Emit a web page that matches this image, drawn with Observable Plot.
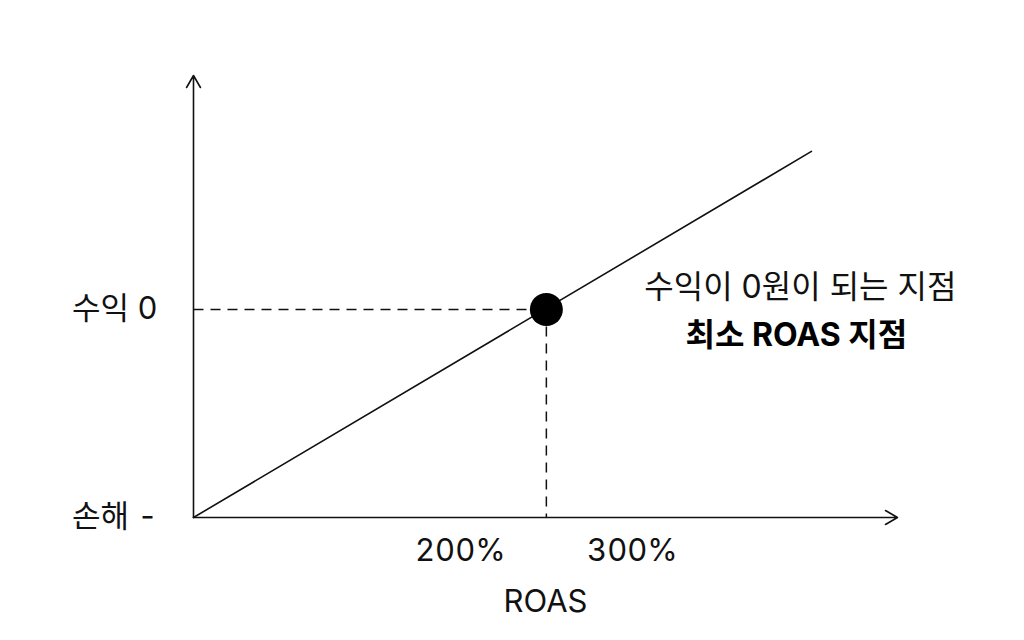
<!DOCTYPE html>
<html>
<head>
<meta charset="utf-8">
<script src="https://cdn.jsdelivr.net/npm/d3@7"></script>
<script src="https://cdn.jsdelivr.net/npm/@observablehq/plot@0.6"></script>
<style>
  html, body { margin: 0; padding: 0; background: #fff; }
  #chart svg { display: block; }
</style>
</head>
<body>
<div id="chart"></div>
<script>
// ---- data ----
const xDomain = [45, 454];            // ROAS (%) range of the x axis
const yDomain = [-100, 112.5];        // profit (arbitrary units)
const xTicks = [200, 300];
const xTickLabels = ["200%", "300%"];
const yTicks = [0, -100];
const yTickLabels = ["수익 0", "손해 -"];
const lineRoas = [45, 404];
const lineProfit = [-100, 76];
const breakEvenRoas = 250;
const breakEvenProfit = 0;
const annotationLines = ["수익이 0원이 되는 지점", "최소 ROAS 지점"];
const xLabel = "ROAS";

const line = lineRoas.map((r, i) => ({roas: r, profit: lineProfit[i]}));
const point = [{roas: breakEvenRoas, profit: breakEvenProfit}];
const font = "Inter, 'Noto Sans CJK KR', sans-serif";

const chart = Plot.plot({
  width: 1024,
  height: 640,
  marginLeft: 193,
  marginRight: 127,
  marginTop: 75,
  marginBottom: 123,
  style: {fontFamily: font, color: "#111", background: "#fff"},
  x: {domain: xDomain},
  y: {domain: yDomain},
  marks: [
    // axes with arrowheads
    Plot.arrow([{x1: xDomain[0], y1: yDomain[0], x2: xDomain[1], y2: yDomain[0]}],
      {x1: "x1", y1: "y1", x2: "x2", y2: "y2", stroke: "#111", strokeWidth: 1.6, headLength: 13, bend: 0, inset: 0}),
    Plot.arrow([{x1: xDomain[0], y1: yDomain[0], x2: xDomain[0], y2: yDomain[1]}],
      {x1: "x1", y1: "y1", x2: "x2", y2: "y2", stroke: "#111", strokeWidth: 1.6, headLength: 13, bend: 0, inset: 0}),
    // dashed guides
    Plot.link(point, {x1: xDomain[0], x2: "roas", y1: "profit", y2: "profit",
      stroke: "#111", strokeWidth: 1.5, strokeDasharray: "10,7"}),
    Plot.link(point, {x1: "roas", x2: "roas", y1: "profit", y2: yDomain[0],
      stroke: "#111", strokeWidth: 1.5, strokeDasharray: "10,7"}),
    // main line
    Plot.line(line, {x: "roas", y: "profit", stroke: "#111", strokeWidth: 1.6}),
    // break-even dot
    Plot.dot(point, {x: "roas", y: "profit", r: 16.5, fill: "#000", stroke: "none"}),
    // annotation
    Plot.text(point, {x: "roas", y: "profit", text: () => annotationLines[0],
      dx: 254, dy: -22, fontSize: 32, fill: "#111", textAnchor: "middle"}),
    Plot.text(point, {x: "roas", y: "profit", text: () => annotationLines[1],
      dx: 250, dy: 26, fontSize: 32, fontWeight: "bold", fill: "#000", textAnchor: "middle"}),
    // axes
    Plot.axisX(xTicks, {tickSize: 0, tickPadding: 21, fontSize: 31,
      tickFormat: (d) => xTickLabels[xTicks.indexOf(d)],
      label: xLabel, labelAnchor: "center", labelArrow: "none", labelOffset: 94}),
    Plot.axisY(yTicks, {tickSize: 0, tickPadding: 36, fontSize: 31,
      tickFormat: (d) => yTickLabels[yTicks.indexOf(d)], label: null})
  ]
});
document.getElementById("chart").appendChild(chart);
</script>
</body>
</html>
